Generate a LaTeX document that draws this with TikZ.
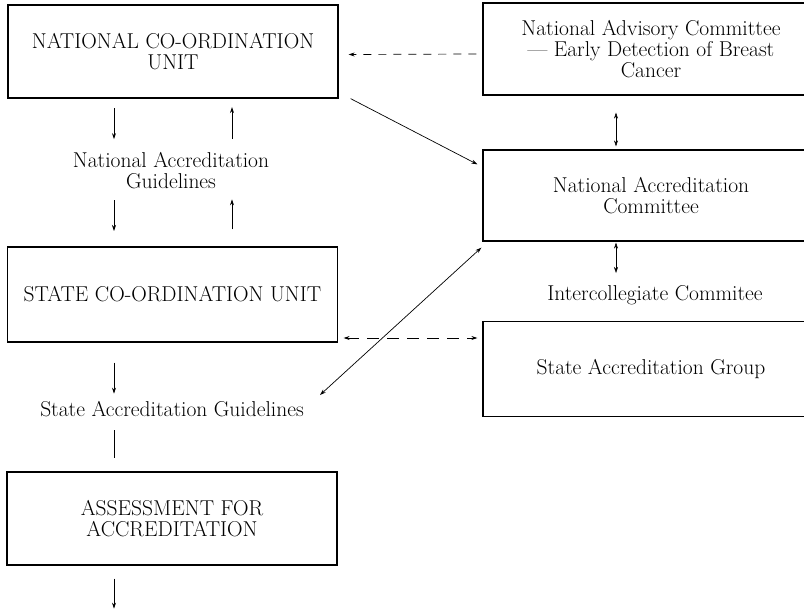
\documentclass[tikz,border=0pt]{standalone}
\usetikzlibrary{arrows.meta}
\newcommand\diagfont{\fontsize{21.5}{21}\selectfont}
\tikzset{
    box/.style={draw, line width=1.3pt, inner sep=4pt, align=center,
                font=\diagfont},
    unitbox/.style={box, minimum width=330pt, minimum height=93pt},
    groupbox/.style={box, minimum width=336pt, minimum height=92pt},
    flow/.style={-{Stealth[length=6pt, width=4pt]}, line width=0.7pt},
    twoway/.style={{Stealth[length=6pt, width=4pt]}-{Stealth[length=6pt, width=4pt]}, line width=0.7pt},
    feedback/.style={flow, dash pattern=on 8pt off 7pt},
    note/.style={font=\diagfont, align=center, inner sep=3pt},
}

\begin{document}
\begin{tikzpicture}[x=1pt, y=-1pt]

    \useasboundingbox (0,0) rectangle (804,611);
    \clip (0,0) rectangle (804,611);

    \node[unitbox] (ncu) at (173,51.5) {NATIONAL CO-ORDINATION\\UNIT};
    \node[note] (nag) at (171,171) {National Accreditation\\Guidelines};
    \node[unitbox, minimum height=95pt] (scu) at (172.5,294.5) {STATE CO-ORDINATION UNIT};
    \node[note] (sg) at (172,409) {State Accreditation Guidelines};
    \node[unitbox] (ass) at (172,518.5) {ASSESSMENT FOR\\ACCREDITATION};

    \node[groupbox] (adv) at (651,49) {National Advisory Committee\\
        --- Early Detection of Breast\\Cancer};
    \node[groupbox, minimum height=91pt] (nac) at (651,195.5) {National Accreditation\\Committee};
    \node[note] (icom) at (655,295) {Intercollegiate Commitee};
    \node[groupbox, minimum height=95pt] (sag) at (651,369) {State Accreditation Group};

    \draw[flow] ([shift={(-59,9.5)}]ncu.south) -- ++(0,31);
    \draw[flow] ([shift={(59,40.5)}]ncu.south) -- ++(0,-32);
    \draw[flow] ([shift={(-57,29)}]nag.center) -- ++(0,31);
    \draw[flow] ([shift={(59.5,-17)}]scu.north) -- ++(0,-30);
    \draw[flow] ([shift={(-58.5,20)}]scu.south) -- ++(0,31);
    \draw[line width=0.7pt] ([shift={(-58,21)}]sg.center) -- ++(0,28);
    \draw[flow] ([shift={(-58,13)}]ass.south) -- ++(0,30);

    \draw[feedback] ([shift={(-6,5)}]adv.west) -- ([shift={(10,3)}]ncu.east);
    \draw[flow] ([shift={(12,0)}]ncu.south east) -- ([shift={(-5,15)}]nac.north west);
    \draw[twoway, line width=0.5pt] ([shift={(-35,17)}]adv.south) -- ([shift={(-35,-3)}]nac.north);
    \draw[twoway, line width=0.5pt] ([shift={(-35,1)}]nac.south) -- ([shift={(-39,-22)}]icom.center);
    \draw[twoway, dash pattern=on 12pt off 8pt] ([shift={(5.5,43.5)}]scu.east) -- ([shift={(-5,-31)}]sag.west);
    \draw[twoway] ([shift={(-1,6)}]nac.south west) -- ([shift={(148,-14)}]sg.center);

\end{tikzpicture}
\end{document}
